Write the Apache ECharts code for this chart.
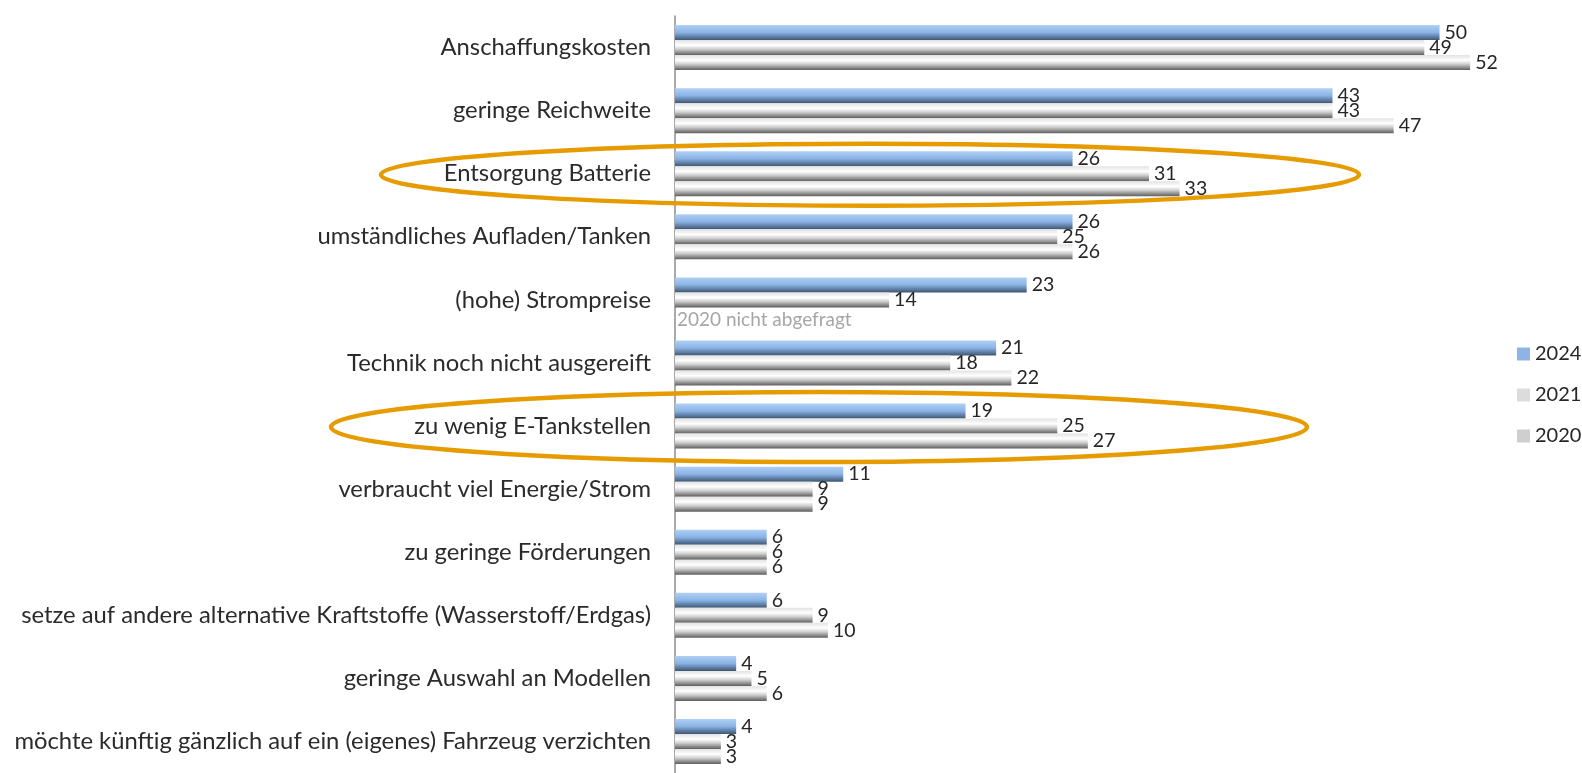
<!DOCTYPE html>
<html>
<head>
<meta charset="utf-8">
<script src="https://cdn.jsdelivr.net/npm/echarts@6/dist/echarts.min.js"></script>
<style>
  html, body { margin: 0; padding: 0; background: #fff; }
  #chart { width: 1582px; height: 773px; }
</style>
</head>
<body>
<div id="chart"></div>
<script>
const categories = [
  'Anschaffungskosten',
  'geringe Reichweite',
  'Entsorgung Batterie',
  'umständliches Aufladen/Tanken',
  '(hohe) Strompreise',
  'Technik noch nicht ausgereift',
  'zu wenig E-Tankstellen',
  'verbraucht viel Energie/Strom',
  'zu geringe Förderungen',
  'setze auf andere alternative Kraftstoffe (Wasserstoff/Erdgas)',
  'geringe Auswahl an Modellen',
  'möchte künftig gänzlich auf ein (eigenes) Fahrzeug verzichten',
]
const values2024 = [50, 43, 26, 26, 23, 21, 19, 11, 6, 6, 4, 4]
const values2021 = [49, 43, 31, 25, 14, 18, 25, 9, 6, 9, 5, 3]
// null = 2020 nicht abgefragt
const values2020 = [52, 47, 33, 26, null, 22, 27, 9, 6, 10, 6, 3]
const highlighted = ['Entsorgung Batterie', 'zu wenig E-Tankstellen']
const notAskedNote = '2020 nicht abgefragt'

const FONT = 'Lato, "Open Sans", sans-serif'

const blueGrad = new echarts.graphic.LinearGradient(0, 0, 0, 1, [
  { offset: 0, color: '#b0d0f5' },
  { offset: 0.5, color: '#8ab3e6' },
  { offset: 1, color: '#3f5672' },
])
const grayGrad = new echarts.graphic.LinearGradient(0, 0, 0, 1, [
  { offset: 0, color: '#e2e2e2' },
  { offset: 0.35, color: '#ffffff' },
  { offset: 0.6, color: '#d0d0d0' },
  { offset: 1, color: '#5e5e5e' },
])

const valueLabel = {
  show: true, position: 'right', distance: 5,
  color: '#262626', fontSize: 19.5, fontFamily: FONT,
}

const chart = echarts.init(document.getElementById('chart'))

chart.setOption({
  animation: false,
  backgroundColor: '#fff',
  grid: { left: 675, top: 16, height: 763, right: 66 },
  legend: {
    orient: 'vertical', left: 1512, top: 339, itemGap: 21, padding: 5,
    itemWidth: 13, itemHeight: 13, icon: 'rect',
    textStyle: { fontSize: 20, color: '#262626', fontFamily: FONT },
    data: [
      { name: '2024', itemStyle: { color: '#8db4e2' } },
      { name: '2021', itemStyle: { color: '#dcdcdc' } },
      { name: '2020', itemStyle: { color: '#cfcfcf' } },
    ],
  },
  xAxis: {
    type: 'value', min: 0, max: 55, show: false,
  },
  yAxis: {
    type: 'category', data: categories, inverse: true,
    axisLine: { show: true, lineStyle: { color: '#8c8c8c', width: 1.5 } },
    axisTick: { show: false },
    axisLabel: { margin: 24, fontSize: 23.8, color: '#2b2b2b', fontFamily: FONT },
  },
  series: [
    {
      name: '2024', type: 'bar', data: values2024, barWidth: 15, barGap: '0%',
      itemStyle: { color: blueGrad }, label: valueLabel,
    },
    {
      name: '2021', type: 'bar', data: values2021, barWidth: 15, barGap: '0%',
      itemStyle: { color: grayGrad }, label: valueLabel,
    },
    {
      name: '2020', type: 'bar', barWidth: 15, barGap: '0%',
      itemStyle: { color: grayGrad },
      data: values2020.map(v => v === null
        ? { value: 0, label: { formatter: notAskedNote, color: '#a6a6a6', distance: 2, offset: [0, 5], fontSize: 19 } }
        : v),
      label: valueLabel,
    },
  ],
})

// orange ellipses around the highlighted categories
const ellipseSizes = [{ cx: 870, rx: 489, ry: 31 }, { cx: 819, rx: 488, ry: 35 }]
chart.setOption({
  graphic: highlighted.map((name, i) => {
    const cy = chart.convertToPixel({ yAxisIndex: 0 }, name)
    const s = ellipseSizes[i]
    return {
      type: 'ellipse', z: 100, silent: true,
      shape: { cx: s.cx, cy: cy + 1, rx: s.rx, ry: s.ry },
      style: { fill: 'none', stroke: '#e69c00', lineWidth: 4.5 },
    }
  }),
})
</script>
</body>
</html>
